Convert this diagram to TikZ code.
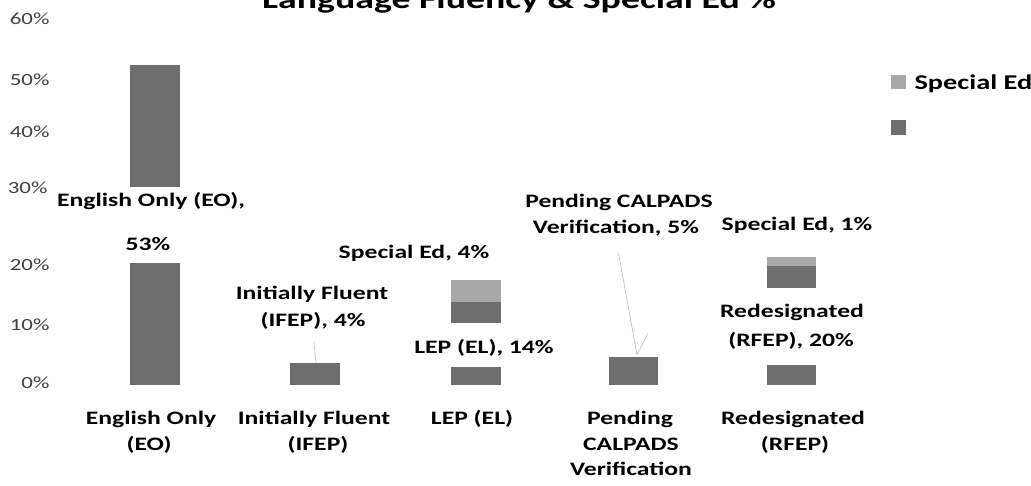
\documentclass[tikz,border=0pt]{standalone}
\usepackage{fontspec}
\setmainfont[FakeStretch=1.35]{Carlito}
\definecolor{bardark}{HTML}{6E6E6E}
\definecolor{barlight}{HTML}{A8A8A8}
\definecolor{axisgray}{HTML}{404040}
\begin{document}
\begin{tikzpicture}[x=1pt,y=-1pt,>=stealth,
	axislbl/.style={anchor=east,text=axisgray,font=\fontsize{17}{20}\selectfont},
	datalbl/.style={anchor=base,font=\bfseries\fontsize{19}{23}\selectfont},
	leader/.style={draw=gray!55,line width=0.6pt}]
	\useasboundingbox (0,0) rectangle (1031,485);
	\node[anchor=base,font=\bfseries\fontsize{28}{34}\selectfont] (title) at (519,8) {Language Fluency \& Special Ed \%};
	\node[axislbl] (y60) at (53,19) {60\%};
	\node[axislbl] (y50) at (53,80) {50\%};
	\node[axislbl] (y40) at (53,132) {40\%};
	\node[axislbl] (y30) at (51,188) {30\%};
	\node[axislbl] (y20) at (53,265) {20\%};
	\node[axislbl] (y10) at (53,325) {10\%};
	\node[axislbl] (y0) at (53,383) {0\%};
	\fill[bardark] (130,65) rectangle (180,187);
	\fill[bardark] (130,263) rectangle (180,385);
	\fill[bardark] (290,363) rectangle (340,385);
	\fill[barlight] (451,280) rectangle (501,302);
	\fill[bardark] (451,302) rectangle (501,323);
	\fill[bardark] (451,367) rectangle (501,385);
	\fill[bardark] (609,357) rectangle (658,385);
	\fill[barlight] (767,257) rectangle (816,266);
	\fill[bardark] (767,266) rectangle (816,288);
	\fill[bardark] (767,365) rectangle (816,385);
	\coordinate (ifeptop) at (316,363);
	\coordinate (pendtop) at (637,355);
	\coordinate (pendside) at (648,333);
	\node[datalbl] (eo1) at (151,206) {English Only (EO),};
	\node[datalbl] (eo2) at (148,250) {53\%};
	\node[datalbl] (ifep1) at (312,299) {Initially Fluent};
	\node[datalbl] (ifep2) at (313,326) {(IFEP), 4\%};
	\node[datalbl] (lepsp) at (414,258) {Special Ed, 4\%};
	\node[datalbl] (lep) at (484,353) {LEP (EL), 14\%};
	\node[datalbl] (pend1) at (619,207) {Pending CALPADS};
	\node[datalbl] (pend2) at (616,233) {Verification, 5\%};
	\node[datalbl] (rfepsp) at (797,230) {Special Ed, 1\%};
	\node[datalbl] (rfep1) at (792,317) {Redesignated};
	\node[datalbl] (rfep2) at (791,346) {(RFEP), 20\%};
	\draw[leader,shorten <=10pt] (ifep2.south) -- (ifeptop);
	\draw[leader,shorten <=14pt] (pend2.south) -- (pendtop);
	\draw[leader] (pendside) -- (pendtop);
	\node[datalbl] (c1a) at (151,424) {English Only};
	\node[datalbl] (c1b) at (149,450) {(EO)};
	\node[datalbl] (c2a) at (314,424) {Initially Fluent};
	\node[datalbl] (c2b) at (318,450) {(IFEP)};
	\node[datalbl] (c3a) at (472,424) {LEP (EL)};
	\node[datalbl] (c4a) at (630,424) {Pending};
	\node[datalbl] (c4b) at (631,450) {CALPADS};
	\node[datalbl] (c4c) at (631,475) {Verification};
	\node[datalbl] (c5a) at (793,424) {Redesignated};
	\node[datalbl] (c5b) at (795,450) {(RFEP)};
	\fill[barlight] (891,75) rectangle (906,89);
	\fill[bardark] (891,120) rectangle (906,135);
	\node[anchor=base west,font=\bfseries\fontsize{21}{25}\selectfont] (legsp) at (911,89) {Special Ed};
\end{tikzpicture}
\end{document}
